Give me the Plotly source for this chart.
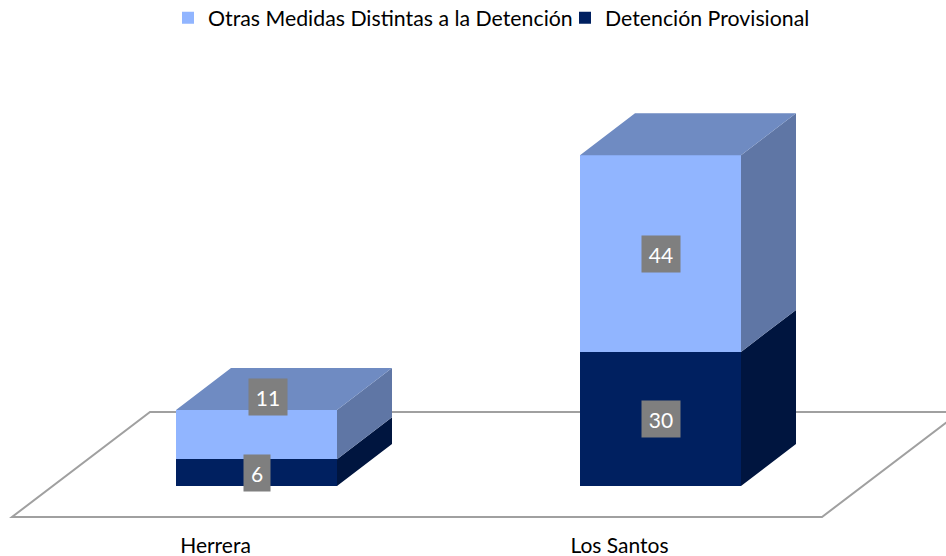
import plotly.graph_objects as go

categories = ["Herrera", "Los Santos"]
otras = [11, 44]
detencion = [6, 30]
series_names = ["Detención Provisional", "Otras Medidas Distintas a la Detención"]

FONT = "Lato"
W, H = 946, 556
PLOT_BOTTOM = 531
X0_PX, X_STEP = 256.5, 404.0   # pixel of category 0, pixels per category
Y0_PX, Y_STEP = 486.0, 4.47    # pixel of value 0, pixels per unit
BAR_W = 161 / X_STEP
DX, DY = 55 / X_STEP, 42 / Y_STEP  # oblique depth of the bars
x_pos = list(range(len(categories)))


def side_faces(bases, values):
    xs, ys = [], []
    for x, b, v in zip(x_pos, bases, values):
        r = x + BAR_W / 2
        xs += [r, r + DX, r + DX, r, r, None]
        ys += [b, b + DY, b + v + DY, b + v, b, None]
    return xs, ys


def top_faces(tops):
    xs, ys = [], []
    for x, t in zip(x_pos, tops):
        l, r = x - BAR_W / 2, x + BAR_W / 2
        xs += [l, r, r + DX, l + DX, l, None]
        ys += [t, t, t + DY, t + DY, t, None]
    return xs, ys


def face(xs, ys, color):
    return go.Scatter(x=xs, y=ys, mode="lines", fill="toself", fillcolor=color,
                      line=dict(width=0, color=color), showlegend=False, hoverinfo="skip")


fig = go.Figure()
fig.add_bar(x=x_pos, y=detencion, width=BAR_W, name=series_names[0], marker=dict(color="#002060", line_width=0))
fig.add_bar(x=x_pos, y=otras, width=BAR_W, name=series_names[1], marker=dict(color="#91B5FF", line_width=0))

fig.add_trace(face(*side_faces([0, 0], detencion), "#00153F"))
fig.add_trace(face(*side_faces(detencion, otras), "#5F76A5"))
tops = [a + b for a, b in zip(detencion, otras)]
fig.add_trace(face(*top_faces(tops), "#6F8BC2"))

# floor of the 3D plot
floor_l = (12 - X0_PX) / X_STEP
floor_r = (822 - X0_PX) / X_STEP
floor_f = (Y0_PX - 517) / Y_STEP
floor_dx, floor_dy = 138 / X_STEP, 105 / Y_STEP
fig.add_shape(type="path", layer="below", line=dict(color="#A0A0A0", width=2), fillcolor="rgba(0,0,0,0)",
              path=(f"M{floor_l},{floor_f} L{floor_r},{floor_f} "
                    f"L{floor_r + floor_dx},{floor_f + floor_dy} L{floor_l + floor_dx},{floor_f + floor_dy} Z"))


def label(x, y, v, xshift=0, yshift=0):
    fig.add_annotation(x=x, y=y, text=str(v), showarrow=False, xshift=xshift, yshift=yshift,
                       bgcolor="#7F7F7F", font=dict(family=FONT, size=21, color="white"),
                       width=38 if v >= 10 else 26, height=36, borderpad=0, align="center", valign="middle")


label(0, detencion[0] / 2, detencion[0])
label(1, detencion[1] / 2, detencion[1])
label(0, detencion[0] + otras[0] / 2, otras[0], xshift=11, yshift=38)
label(1, detencion[1] + otras[1] / 2, otras[1])

fig.update_layout(
    width=W, height=H, autosize=False,
    margin=dict(l=0, r=0, t=0, b=H - PLOT_BOTTOM, autoexpand=False),
    paper_bgcolor="white", plot_bgcolor="white",
    barmode="stack", bargap=0,
    font=dict(family=FONT, size=21, color="black"),
    showlegend=True,
    legend=dict(orientation="h", traceorder="reversed", x=168 / W, xanchor="left",
                y=1.005, yanchor="top", entrywidth=352, entrywidthmode="pixels",
                font=dict(family=FONT, size=21.3), bgcolor="rgba(0,0,0,0)", itemclick=False, itemdoubleclick=False),
    xaxis=dict(range=[(0 - X0_PX) / X_STEP, (W - X0_PX) / X_STEP], showgrid=False, zeroline=False, showline=False,
               tickmode="array", tickvals=[x - 41 / X_STEP for x in x_pos], ticktext=categories,
               ticks="", tickfont=dict(family=FONT, size=21, color="black")),
    yaxis=dict(range=[(Y0_PX - PLOT_BOTTOM) / Y_STEP, Y0_PX / Y_STEP], visible=False),
)

fig.write_html("out.html", config={"displayModeBar": False},
               post_script="document.body.style.margin = '0';")
